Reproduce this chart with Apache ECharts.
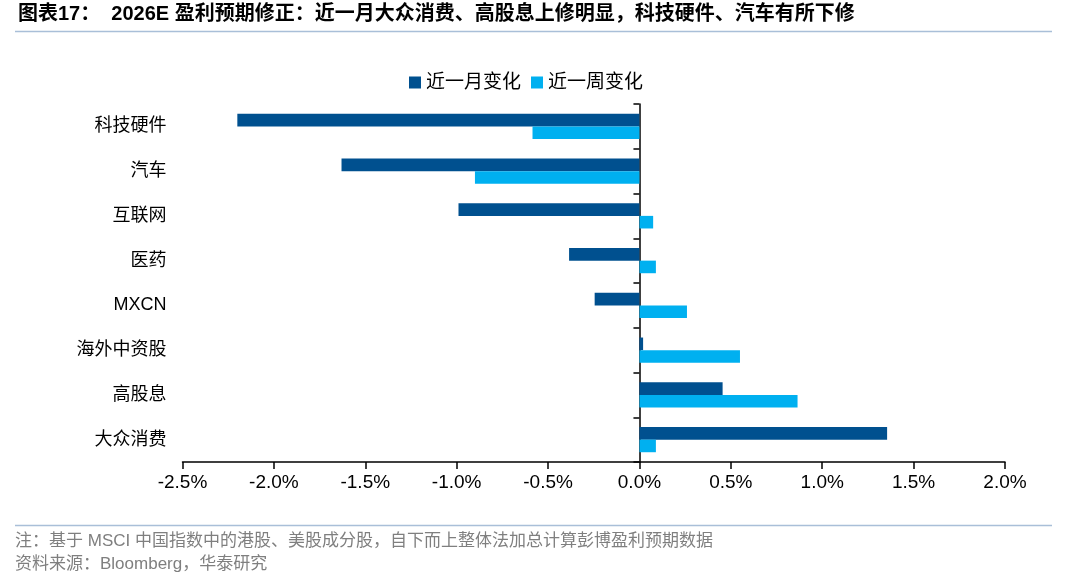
<!DOCTYPE html>
<html>
<head>
<meta charset="utf-8">
<script src="https://cdn.jsdelivr.net/npm/echarts@6/dist/echarts.min.js"></script>
<style>
  html, body { margin: 0; padding: 0; background: #fff; }
  #main { width: 1080px; height: 577px; }
</style>
</head>
<body>
<div id="main"></div>
<script>
// 行业分类（自上而下）
var categories = ['科技硬件', '汽车', '互联网', '医药', 'MXCN', '海外中资股', '高股息', '大众消费'];
// 近一月变化 (%)
var monthChange = [-2.20, -1.63, -0.99, -0.385, -0.245, 0.02, 0.455, 1.355];
// 近一周变化 (%)
var weekChange = [-0.585, -0.90, 0.075, 0.09, 0.26, 0.55, 0.865, 0.09];
// x轴刻度
var xMin = -2.5, xMax = 2.0, xStep = 0.5;

var titleText = '图表17：  2026E 盈利预期修正：近一月大众消费、高股息上修明显，科技硬件、汽车有所下修';
var noteText = '注：基于 MSCI 中国指数中的港股、美股成分股，自下而上整体法加总计算彭博盈利预期数据';
var sourceText = '资料来源：Bloomberg，华泰研究';

var myChart = echarts.init(document.getElementById('main'));
var cjk = '"Liberation Sans", "Noto Sans CJK SC", sans-serif';

var option = {
    backgroundColor: '#fff',
    animation: false,
    // 标题、分隔线、注释
    graphic: [
        { type: 'text', left: 18, top: 4, style: { text: titleText, font: 'bold 20px ' + cjk, fill: '#000' } },
        { type: 'line', shape: { x1: 15, y1: 31.5, x2: 1052, y2: 31.5 }, style: { stroke: '#a9bfd8', lineWidth: 1.5 } },
        { type: 'line', shape: { x1: 15, y1: 525.5, x2: 1052, y2: 525.5 }, style: { stroke: '#a9bfd8', lineWidth: 1.5 } },
        { type: 'text', left: 15, top: 533, style: { text: noteText, font: '17px ' + cjk, fill: '#7f7f7f' } },
        { type: 'text', left: 15, top: 556, style: { text: sourceText, font: '17px ' + cjk, fill: '#7f7f7f' } }
    ],
    legend: {
        left: 404,
        top: 68,
        itemWidth: 12,
        itemHeight: 12,
        itemGap: 10,
        icon: 'rect',
        textStyle: { fontSize: 19, color: '#000', fontFamily: cjk },
        data: ['近一月变化', '近一周变化']
    },
    grid: { left: 182.5, right: 75, top: 104, bottom: 115, containLabel: false },
    xAxis: {
        type: 'value',
        min: xMin,
        max: xMax,
        interval: xStep,
        splitLine: { show: false },
        axisLine: { show: true, onZero: false, lineStyle: { color: '#000', width: 1.5 } },
        axisTick: { show: true, length: 7, lineStyle: { color: '#000', width: 1.5 } },
        axisLabel: {
            margin: 11,
            fontSize: 19,
            color: '#000',
            fontFamily: '"Liberation Sans", Arial, sans-serif',
            formatter: function (v) { return v.toFixed(1) + '%'; }
        }
    },
    yAxis: [
        {
            // 左侧标签
            type: 'category',
            inverse: true,
            data: categories,
            position: 'left',
            axisLine: { show: false, onZero: false },
            axisTick: { show: false },
            axisLabel: {
                margin: 16,
                fontSize: 18,
                color: '#000',
                fontFamily: cjk
            }
        },
        {
            // 0 处的轴线，刻度朝左
            type: 'category',
            inverse: true,
            data: categories,
            position: 'left',
            axisLine: { show: true, onZero: true, onZeroAxisIndex: 0, lineStyle: { color: '#000', width: 1.5 } },
            axisTick: { show: true, inside: false, length: 6, lineStyle: { color: '#000', width: 1.5 } },
            axisLabel: { show: false }
        }
    ],
    series: [
        {
            name: '近一月变化',
            type: 'bar',
            yAxisIndex: 0,
            barWidth: 12.6,
            barGap: '0%',
            itemStyle: { color: '#00508f' },
            data: monthChange
        },
        {
            name: '近一周变化',
            type: 'bar',
            yAxisIndex: 0,
            barWidth: 12.6,
            barGap: '0%',
            itemStyle: { color: '#00b0f0' },
            data: weekChange
        }
    ]
};

myChart.setOption(option);
</script>
</body>
</html>
